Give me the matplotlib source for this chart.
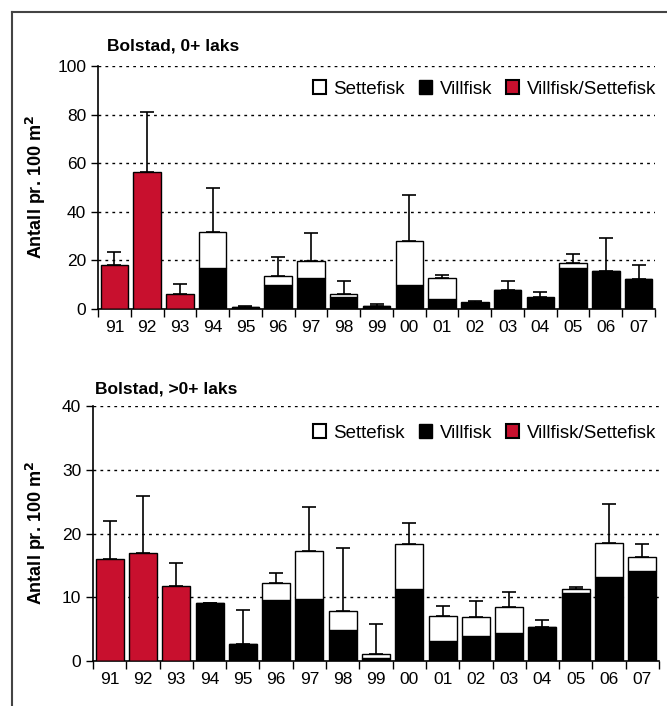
import numpy as np
import matplotlib
matplotlib.use("Agg")
import matplotlib.pyplot as plt
from matplotlib.patches import Patch
from matplotlib.lines import Line2D

plt.rcParams['font.family'] = ['Liberation Sans', 'DejaVu Sans']

aar = ["91", "92", "93", "94", "95", "96", "97", "98", "99",
       "00", "01", "02", "03", "04", "05", "06", "07"]

# 0+ laks
blandet_0 = [18.1, 56.5, 6.2, 0, 0, 0, 0, 0, 0, 0, 0, 0, 0, 0, 0, 0, 0]
vill_0 = [0, 0, 0, 16.7, 1.0, 9.9, 12.6, 4.8, 1.2, 10.0, 4.0, 2.5, 7.7, 4.7, 16.9, 15.5, 12.2]
sette_0 = [0, 0, 0, 15.1, 0, 3.5, 7.3, 1.4, 0.2, 18.0, 8.8, 0.3, 0, 0.4, 1.9, 0, 0]
sd_0 = [5.2, 24.7, 4.2, 18.2, 0.3, 7.9, 11.4, 5.2, 0.7, 19.0, 1.2, 0.6, 3.8, 1.8, 4.0, 13.8, 5.8]

# >0+ laks
blandet_1 = [16.0, 17.0, 11.8, 0, 0, 0, 0, 0, 0, 0, 0, 0, 0, 0, 0, 0, 0]
vill_1 = [0, 0, 0, 9.1, 2.7, 9.6, 9.8, 4.9, 0.5, 11.3, 3.1, 3.9, 4.4, 5.4, 10.6, 13.1, 14.1]
sette_1 = [0, 0, 0, 0, 0, 2.7, 7.5, 3.0, 0.65, 7.0, 4.0, 3.0, 4.0, 0, 0.7, 5.4, 2.2]
sd_1 = [5.9, 8.9, 3.5, 0, 5.3, 1.5, 6.9, 9.9, 4.65, 3.4, 1.5, 2.5, 2.5, 1.0, 0.3, 6.2, 2.0]

ROD = "#c8102e"


def tegn(ax, blandet, vill, sette, sd, ymax, steg, tittel, tx, ty, lx, legy):
    x = np.arange(len(aar))
    blandet = np.array(blandet)
    vill = np.array(vill)
    sette = np.array(sette)
    total = blandet + vill + sette
    ax.bar(x, blandet, width=0.84, color=ROD, edgecolor="black", linewidth=1.0, zorder=3)
    ax.bar(x, vill, width=0.84, color="black", edgecolor="black", linewidth=1.0, zorder=3)
    ax.bar(x, sette, bottom=vill, width=0.84, color="white", edgecolor="black", linewidth=1.0, zorder=3)
    ax.errorbar(x, total, yerr=[np.zeros(len(x)), sd], fmt="none", ecolor="black",
                elinewidth=1.2, capsize=5, capthick=1.2, zorder=2)

    ax.set_xlim(-0.5, len(aar) - 0.5)
    ax.set_ylim(0, ymax)
    ax.set_yticks(np.arange(0, ymax + 1, steg))
    ax.set_xticks(x)
    ax.set_xticklabels(aar)
    ax.set_xticks(np.arange(-0.5, len(aar)), minor=True)
    ax.tick_params(axis="x", which="major", length=0, pad=8, labelsize=12.5)
    ax.tick_params(axis="x", which="minor", length=6, width=1, direction="out")
    ax.tick_params(axis="y", length=5, width=1, direction="out", labelsize=12.5)
    for s in ["top", "right"]:
        ax.spines[s].set_visible(False)
    ax.spines["left"].set_linewidth(1.2)
    ax.spines["bottom"].set_linewidth(1.2)
    ax.yaxis.grid(True, linestyle=(0, (2, 3)), color="black", linewidth=1.0, zorder=0)
    ax.set_axisbelow(True)
    ax.set_ylabel("Antall pr. 100 m$^\\mathbf{2}$", fontsize=13, fontweight="bold")
    ax.yaxis.set_label_coords(lx, 0.5)
    ax.text(tx, ty, tittel, transform=ax.transAxes, fontsize=12.5, fontweight="bold",
            ha="left", va="center")

    handles = [Patch(facecolor="white", edgecolor="black", linewidth=1.5),
               Patch(facecolor="black", edgecolor="black"),
               Patch(facecolor=ROD, edgecolor="black", linewidth=1.5)]
    ax.legend(handles, ["Settefisk", "Villfisk", "Villfisk/Settefisk"], ncol=3,
              loc="center right", bbox_to_anchor=(656 / 667, 1 - legy / 706),
              bbox_transform=fig.transFigure, frameon=False, borderpad=0,
              fontsize=13.5, handlelength=0.7, handleheight=0.7, handletextpad=0.4,
              columnspacing=0.75, borderaxespad=0)


fig = plt.figure(figsize=(6.67, 7.06), dpi=100)
ax1 = fig.add_axes([98 / 667, 1 - 309 / 706, 557 / 667, 243 / 706])
ax2 = fig.add_axes([93 / 667, 1 - 661 / 706, 566 / 667, 255 / 706])

tegn(ax1, blandet_0, vill_0, sette_0, sd_0, 100, 20, "Bolstad, 0+ laks",
     0.016, 1.082, -0.090, 89)
tegn(ax2, blandet_1, vill_1, sette_1, sd_1, 40, 10, "Bolstad, >0+ laks",
     0.004, 1.067, -0.080, 433)

# ramme rundt figuren
fig.add_artist(Line2D([12 / 667, 12 / 667], [0, 1 - 12 / 706], transform=fig.transFigure,
                      color="#444444", linewidth=1.5))
fig.add_artist(Line2D([12 / 667, 1], [1 - 12 / 706, 1 - 12 / 706], transform=fig.transFigure,
                      color="#444444", linewidth=1.5))

fig.savefig("out.png", dpi=100)
